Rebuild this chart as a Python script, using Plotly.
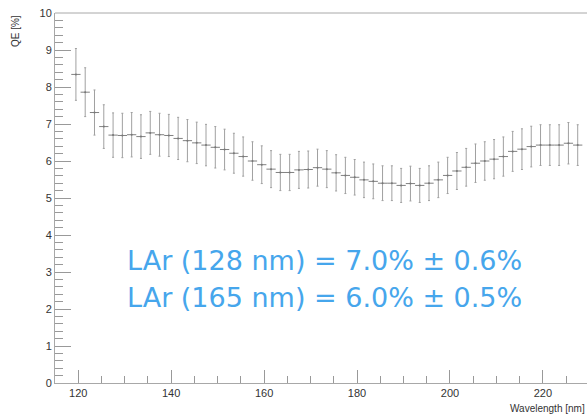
import plotly.graph_objects as go

wavelength = [119.5 + 2 * i for i in range(55)]
qe = [8.34, 7.86, 7.31, 6.93, 6.70, 6.69, 6.71, 6.66, 6.76, 6.71,
      6.69, 6.61, 6.55, 6.49, 6.43, 6.37, 6.31, 6.21, 6.12, 6.00,
      5.90, 5.78, 5.69, 5.69, 5.76, 5.77, 5.82, 5.78, 5.68, 5.61,
      5.56, 5.49, 5.45, 5.40, 5.40, 5.34, 5.39, 5.34, 5.40, 5.49,
      5.61, 5.73, 5.83, 5.94, 6.00, 6.05, 6.12, 6.26, 6.32, 6.39,
      6.43, 6.43, 6.43, 6.48, 6.43]
qe_err = [0.70, 0.66, 0.61, 0.59, 0.60, 0.60, 0.60, 0.59, 0.58, 0.58,
          0.57, 0.57, 0.57, 0.56, 0.56, 0.56, 0.55, 0.54, 0.53, 0.52,
          0.51, 0.50, 0.49, 0.49, 0.50, 0.50, 0.50, 0.50, 0.49, 0.49,
          0.48, 0.48, 0.47, 0.47, 0.47, 0.46, 0.47, 0.46, 0.47, 0.48,
          0.49, 0.50, 0.51, 0.52, 0.52, 0.53, 0.53, 0.54, 0.55, 0.55,
          0.55, 0.55, 0.55, 0.56, 0.55]
bin_half_width = 1.0
y_ticks = [0, 1, 2, 3, 4, 5, 6, 7, 8, 9, 10]
x_ticks = [120, 140, 160, 180, 200, 220]
annotation_lines = ["LAr (128 nm) = 7.0% ± 0.6%", "LAr (165 nm) = 6.0% ± 0.5%"]
annotation_y = [3.3, 2.3]

fig = go.Figure()
fig.add_trace(go.Scatter(
    x=wavelength, y=qe, mode="markers",
    marker=dict(size=2, color="#777777"),
    error_y=dict(type="data", array=qe_err, visible=True, color="#a0a0a0", thickness=1, width=1),
    error_x=dict(type="constant", value=bin_half_width, visible=True, color="#808080", thickness=1, width=0),
    showlegend=False,
))

axis_common = dict(
    showline=True, linecolor="#a8a8a8", linewidth=1, mirror=False,
    ticks="inside", tickcolor="#999999", showgrid=False, zeroline=False,
    tickfont=dict(family="Liberation Sans", size=11, color="#333333"),
)

fig.update_xaxes(
    range=[115, 229.5], tickvals=x_ticks, ticklen=13,
    minor=dict(ticks="inside", ticklen=7, dtick=5, tick0=0, tickcolor="#999999", showgrid=False),
    **axis_common,
)
fig.update_yaxes(
    range=[0, 10], tickvals=y_ticks, ticklen=16,
    minor=dict(ticks="inside", ticklen=8, dtick=0.2, tick0=0, tickcolor="#999999", showgrid=False),
    **axis_common,
)

# top frame line
fig.add_shape(type="line", xref="paper", yref="paper", x0=0, x1=1, y0=1, y1=1,
              line=dict(color="#a8a8a8", width=1))

for txt, yv in zip(annotation_lines, annotation_y):
    fig.add_annotation(x=130.0, y=yv, xref="x", yref="y", text=txt, showarrow=False,
                       xanchor="left", yanchor="middle",
                       font=dict(family="DejaVu Sans", size=27, color="#46a6ec"))

fig.add_annotation(x=1.0, y=-0.068, xref="paper", yref="paper", text="Wavelength [nm]",
                   showarrow=False, xanchor="right", yanchor="middle",
                   font=dict(family="Liberation Sans", size=10, color="#333333"))
fig.add_annotation(x=-0.075, y=1.0, xref="paper", yref="paper", text="QE [%]",
                   showarrow=False, textangle=-90, xanchor="center", yanchor="top",
                   font=dict(family="Liberation Sans", size=10, color="#333333"))

fig.update_layout(
    width=587, height=418,
    margin=dict(l=55, r=0, t=13, b=35),
    paper_bgcolor="white", plot_bgcolor="white",
)

fig.write_html("out.html")
